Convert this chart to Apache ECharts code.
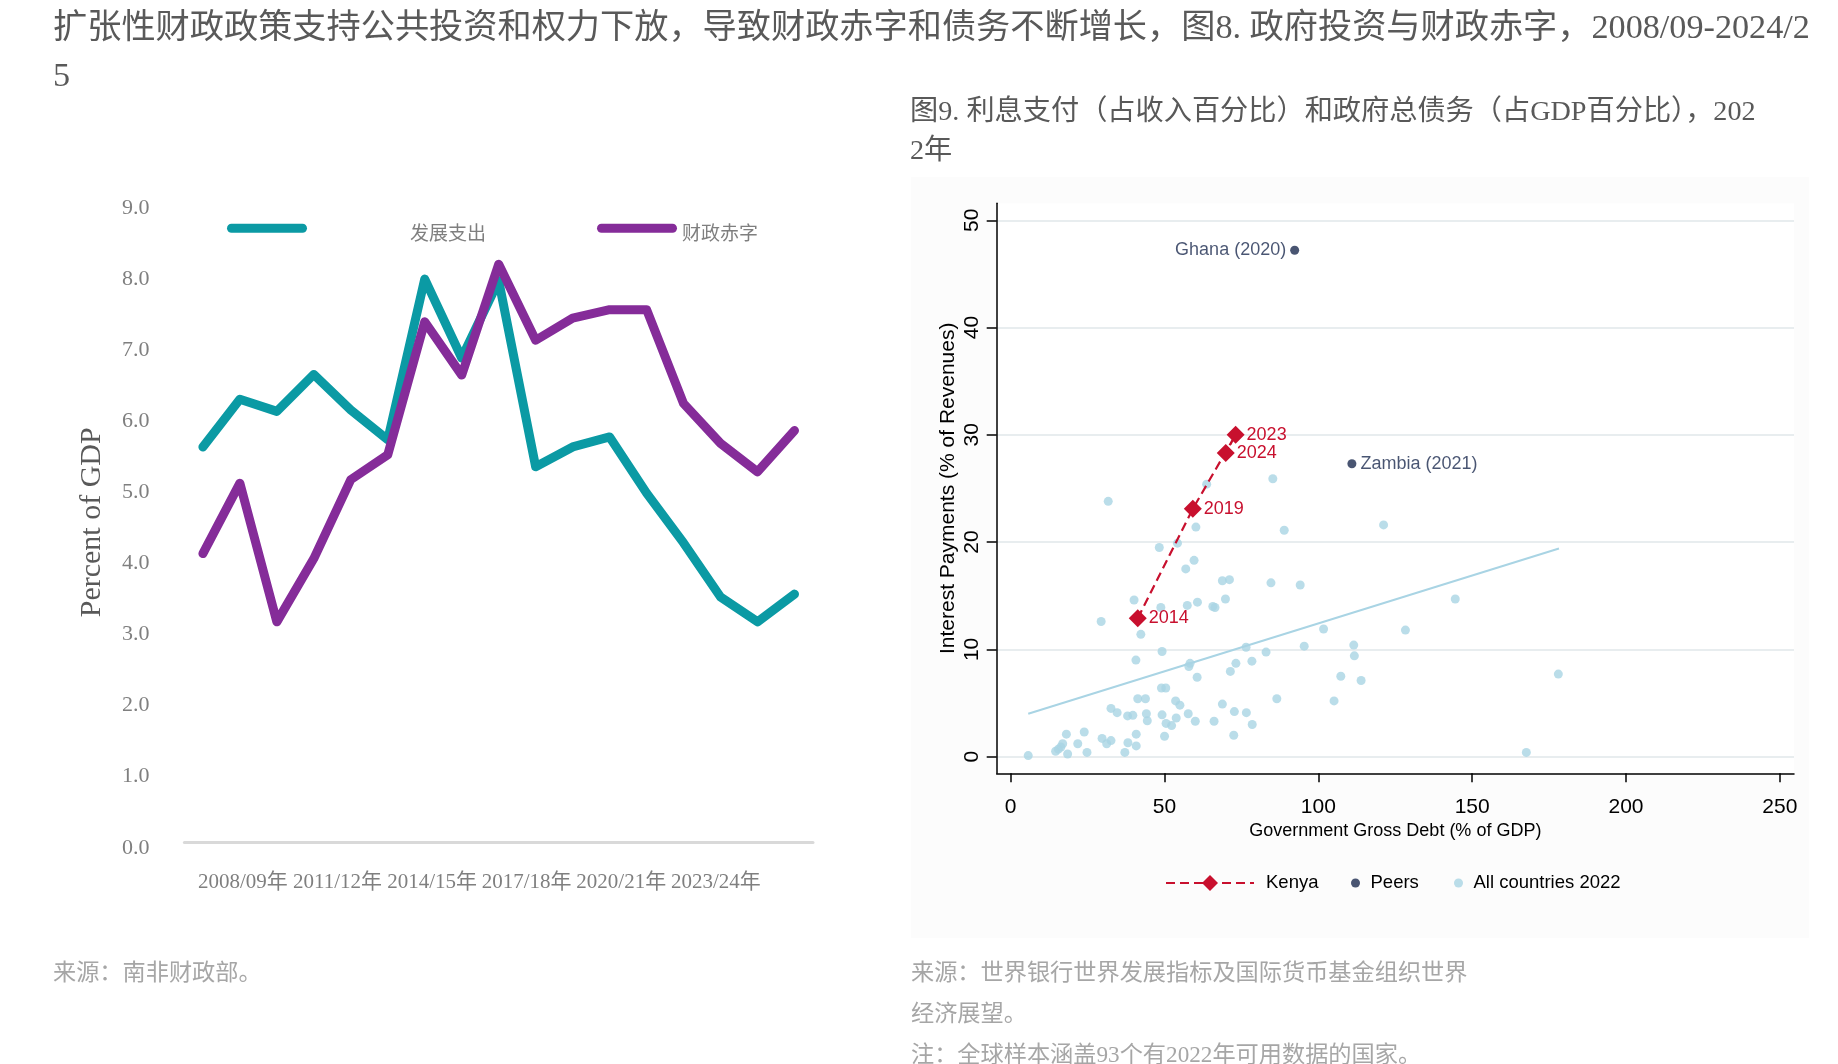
<!DOCTYPE html>
<html>
<head>
<meta charset="utf-8">
<title>图8 / 图9</title>
<script src="https://cdn.jsdelivr.net/npm/echarts@6/dist/echarts.min.js"></script>
<style>
  html, body {margin: 0; padding: 0; background: #fff;}
  #chart {width: 1838px; height: 1064px;}
</style>
</head>
<body>
<div id="chart"></div>
<script>
// 图8: percent of GDP by fiscal year
const fiscalYears = [
  "2008/09年", "2009/10年", "2010/11年", "2011/12年", "2012/13年", "2013/14年",
  "2014/15年", "2015/16年", "2016/17年", "2017/18年", "2018/19年", "2019/20年",
  "2020/21年", "2021/22年", "2022/23年", "2023/24年", "2024/25年",
];
const shownYearLabels = ["2008/09年", "2011/12年", "2014/15年", "2017/18年", "2020/21年", "2023/24年"];
const devSpending = [5.56, 6.23, 6.06, 6.58, 6.08, 5.66, 7.92, 6.81, 7.9, 5.28, 5.56, 5.70, 4.91, 4.21, 3.45, 3.10, 3.49];
const fiscalDeficit = [4.06, 5.05, 3.10, 3.99, 5.10, 5.45, 7.32, 6.57, 8.13, 7.06, 7.37, 7.49, 7.49, 6.17, 5.61, 5.21, 5.79];
const pctTicks = [0, 1, 2, 3, 4, 5, 6, 7, 8, 9];

// 图9: interest payments vs gross debt
const kenyaYears = ["2014", "2019", "2023", "2024"];
const kenyaDebt = [41.3, 59.2, 73.1, 69.9];
const kenyaInterest = [12.9, 23.1, 30.0, 28.3];
const peerNames = ["Ghana (2020)", "Zambia (2021)"];
const peerDebt = [92.3, 110.9];
const peerInterest = [47.2, 27.3];
const allDebt = [
  5.7, 14.6, 15.5, 16.3, 16.9, 18.1, 18.5, 21.8, 23.9, 24.8, 29.4, 29.7, 31.2, 32.6, 32.6, 34.6,
  37.1, 38.0, 38.1, 39.7, 40.7, 40.8, 40.8, 41.3, 42.3, 43.8, 44.1, 44.4, 49.2, 49.2, 49.0, 50.4,
  50.0, 50.5, 52.3, 53.6, 53.8, 55.0, 57.7, 57.9, 58.3, 60.0, 60.6, 66.1, 68.8, 71.4, 72.5, 72.7,
  73.2, 76.5, 76.6, 78.4, 78.5, 83.0, 86.5, 95.4, 101.7, 105.1, 107.3, 111.5, 111.7, 113.9, 128.3,
  31.7, 40.1, 48.3, 48.8, 54.2, 56.9, 57.4, 59.6, 60.2, 60.7, 63.7, 65.7, 66.4, 68.8, 69.8, 71.1,
  84.6, 85.2, 88.9, 94.1, 121.2, 144.5, 167.6, 178.0,
];
const allInterest = [
  0.1, 0.5, 0.7, 0.9, 1.2, 2.1, 0.25, 1.2, 2.3, 0.4, 12.6, 1.7, 1.2, 1.5, 4.5, 4.1,
  0.4, 3.8, 1.3, 3.85, 9.0, 2.1, 1.0, 5.4, 11.4, 5.4, 4.0, 3.35, 9.8, 3.9, 6.4, 6.4,
  1.9, 3.1, 2.9, 5.2, 3.6, 4.8, 4.0, 8.4, 8.7, 3.3, 7.4, 3.3, 4.9, 7.95, 2.0, 4.2,
  8.7, 10.2, 4.1, 8.9, 3.0, 9.75, 5.4, 10.3, 11.9, 5.2, 7.5, 10.4, 9.4, 7.1, 11.8,
  23.8, 14.6, 19.5, 13.9, 19.9, 17.5, 14.1, 18.3, 21.4, 14.4, 25.4, 14.0, 13.9, 16.4, 14.7, 16.5,
  16.2, 25.9, 21.1, 16.0, 21.6, 14.7, 0.4, 7.7,
];
const fitDebt = [5.7, 178.2];
const fitInterest = [4.0, 19.4];
const debtTicks = [0, 50, 100, 150, 200, 250];
const interestTicks = [0, 10, 20, 30, 40, 50];

const TEAL = "#0b9aa4";
const PURPLE = "#852c99";
const KENYA = "#c8102e";
const PEER = "#1c2b4f";
const LIGHT = "#a9d4e4";
const SERIF = "'Liberation Serif', 'Noto Sans CJK SC', serif";
const SANS = "'Liberation Sans', Arial, sans-serif";
const CJK = "'Liberation Serif', 'Noto Sans CJK SC', sans-serif";
const pill = "path://M4.5,0 H75.5 A4.5,4.5 0 0 1 75.5,9 H4.5 A4.5,4.5 0 0 1 4.5,0 Z";

// legend text sits a little lower than its line in the original
const legendText = (padLeft) => ({
  rich: {t: {fontSize: 19, color: "#7f7f7f", fontFamily: CJK, padding: [13, 0, 0, padLeft]}},
});

const chart = echarts.init(document.getElementById("chart"), null, {renderer: "canvas"});

const option = {
  backgroundColor: "#fff",
  animation: false,
  title: [
    {
      text: "扩张性财政政策支持公共投资和权力下放，导致财政赤字和债务不断增长，图8. 政府投资与财政赤字，2008/09-2024/2\n5",
      left: 53, top: 5, padding: 0,
      textStyle: {fontSize: 34.2, lineHeight: 48, fontWeight: "normal", color: "#595959", fontFamily: CJK},
    },
    {
      text: "图9. 利息支付（占收入百分比）和政府总债务（占GDP百分比），202\n2年",
      left: 910, top: 93.5, padding: 0,
      textStyle: {fontSize: 28.2, lineHeight: 39, fontWeight: "normal", color: "#595959", fontFamily: CJK},
    },
    {
      text: "来源：南非财政部。",
      left: 53, top: 953.5, padding: 0,
      textStyle: {fontSize: 23.2, lineHeight: 41, fontWeight: "normal", color: "#a6a6a6", fontFamily: CJK},
    },
    {
      text: "来源：世界银行世界发展指标及国际货币基金组织世界\n经济展望。\n注：全球样本涵盖93个有2022年可用数据的国家。",
      left: 911, top: 953.5, padding: 0,
      textStyle: {fontSize: 23.2, lineHeight: 41, fontWeight: "normal", color: "#a6a6a6", fontFamily: CJK},
    },
  ],
  graphic: [
    {type: "rect", shape: {x: 911, y: 177, width: 898, height: 761}, style: {fill: "#fcfcfc"}, z: -10, silent: true},
  ],
  legend: [
    {
      data: ["发展支出"], formatter: "{t|{name}}",
      left: 227, top: 223.7, padding: 0, itemWidth: 80, itemHeight: 9, icon: pill,
      textStyle: legendText(98),
    },
    {
      data: ["财政赤字"], formatter: "{t|{name}}",
      left: 597, top: 223.7, padding: 0, itemWidth: 80, itemHeight: 9, icon: pill,
      textStyle: legendText(0),
    },
    {
      data: ["Kenya"], left: 1165, top: 873.5, padding: 0, itemWidth: 88, itemHeight: 20,
      textStyle: {fontSize: 18.5, color: "#000", fontFamily: SANS, padding: [0, 0, 0, 7]},
    },
    {
      data: ["Peers"], left: 1351, top: 873.5, padding: 0, itemWidth: 20, itemHeight: 9,
      textStyle: {fontSize: 18.5, color: "#000", fontFamily: SANS},
    },
    {
      data: ["All countries 2022"], left: 1454, top: 873.5, padding: 0, itemWidth: 20, itemHeight: 9,
      textStyle: {fontSize: 18.5, color: "#000", fontFamily: SANS},
    },
  ],
  grid: [
    {left: 184.4, right: 1838 - 813, top: 202.3, bottom: 1064 - 842.3, outerBoundsMode: "none"},
    {left: 195.6, right: 1838 - 763.1, top: 202.3, bottom: 1064 - 842.3, outerBoundsMode: "none"},
    {left: 996.7, right: 1838 - 1794, top: 203.3, bottom: 1064 - 773.3, outerBoundsMode: "none",
      show: true, backgroundColor: "#fff", borderWidth: 0},
  ],
  xAxis: [
    {
      gridIndex: 0, type: "category", data: fiscalYears, boundaryGap: true,
      axisLine: {lineStyle: {color: "#d9d9d9", width: 3}},
      axisTick: {show: false}, axisLabel: {show: false}, splitLine: {show: false},
    },
    {
      gridIndex: 1, type: "category", data: shownYearLabels, boundaryGap: true,
      axisLine: {show: false}, axisTick: {show: false}, splitLine: {show: false},
      axisLabel: {interval: 0, margin: 30, fontSize: 21, color: "#7f7f7f", fontFamily: SERIF},
    },
    {
      gridIndex: 2, type: "value", min: -4.55, max: 254.6,
      axisLine: {onZero: false, lineStyle: {color: "#000", width: 1.5}},
      axisTick: {customValues: debtTicks, length: 9, lineStyle: {color: "#000", width: 1.5}},
      axisLabel: {customValues: debtTicks, margin: 23, fontSize: 21, color: "#000", fontFamily: SANS},
      splitLine: {show: false},
      name: "Government Gross Debt (% of GDP)", nameLocation: "middle", nameGap: 49,
      nameTextStyle: {fontSize: 18, color: "#000", fontFamily: SANS},
    },
  ],
  yAxis: [
    {
      gridIndex: 0, type: "value", min: pctTicks[0], max: pctTicks[pctTicks.length - 1], interval: 1,
      axisLine: {show: false}, axisTick: {show: false}, splitLine: {show: false},
      axisLabel: {
        margin: 35, fontSize: 22, color: "#7f7f7f", fontFamily: SERIF, verticalAlign: "top", lineHeight: 11,
        formatter: (v) => v.toFixed(1),
      },
      name: "Percent of GDP", nameLocation: "middle", nameGap: 77,
      nameTextStyle: {fontSize: 30, color: "#595959", fontFamily: SERIF},
    },
    {gridIndex: 1, type: "value", show: false},
    {
      gridIndex: 2, type: "value", min: -1.55, max: 51.58,
      axisLine: {onZero: false, lineStyle: {color: "#000", width: 1.5}},
      axisTick: {customValues: interestTicks, length: 10, lineStyle: {color: "#000", width: 1.5}},
      axisLabel: {customValues: interestTicks, rotate: 90, margin: 13.5, fontSize: 21, color: "#000", fontFamily: SANS},
      splitLine: {show: true, lineStyle: {color: "#e8edef", width: 2}},
      name: "Interest Payments (% of Revenues)", nameLocation: "middle", nameGap: 38,
      nameTextStyle: {fontSize: 21, color: "#000", fontFamily: SANS},
    },
  ],
  series: [
    {
      name: "发展支出", type: "line", xAxisIndex: 0, yAxisIndex: 0, data: devSpending,
      showSymbol: false, symbol: "none", color: TEAL,
      lineStyle: {width: 9, color: TEAL, cap: "round", join: "round"},
    },
    {
      name: "财政赤字", type: "line", xAxisIndex: 0, yAxisIndex: 0, data: fiscalDeficit,
      showSymbol: false, symbol: "none", color: PURPLE,
      lineStyle: {width: 9, color: PURPLE, cap: "round", join: "round"},
    },
    {
      name: "All countries 2022", type: "scatter", xAxisIndex: 2, yAxisIndex: 2,
      data: allDebt.map((d, i) => [d, allInterest[i]]),
      symbol: "circle", symbolSize: 9, itemStyle: {color: LIGHT}, color: LIGHT,
    },
    {
      name: "fit", type: "line", xAxisIndex: 2, yAxisIndex: 2,
      data: fitDebt.map((d, i) => [d, fitInterest[i]]),
      symbol: "none", silent: true, lineStyle: {color: LIGHT, width: 2},
    },
    {
      name: "Kenya", type: "line", xAxisIndex: 2, yAxisIndex: 2,
      data: kenyaDebt.map((d, i) => [d, kenyaInterest[i]]),
      symbol: "diamond", symbolSize: 18, showSymbol: true, color: KENYA,
      itemStyle: {color: KENYA},
      lineStyle: {color: KENYA, width: 2.2, type: [9, 5]},
      label: {
        show: true, position: "right", distance: 2, fontSize: 18, color: KENYA, fontFamily: SANS,
        formatter: (p) => kenyaYears[p.dataIndex],
      },
    },
    {
      name: "Peers", type: "scatter", xAxisIndex: 2, yAxisIndex: 2,
      data: peerDebt.map((d, i) => ({
        name: peerNames[i], value: [d, peerInterest[i]],
        label: {position: i === 0 ? "left" : "right"},
      })),
      symbol: "circle", symbolSize: 9, itemStyle: {color: PEER}, color: PEER,
      label: {show: true, distance: 4, fontSize: 18, color: PEER, fontFamily: SANS, formatter: "{b}"},
    },
  ],
};

chart.setOption(option);
</script>
</body>
</html>
